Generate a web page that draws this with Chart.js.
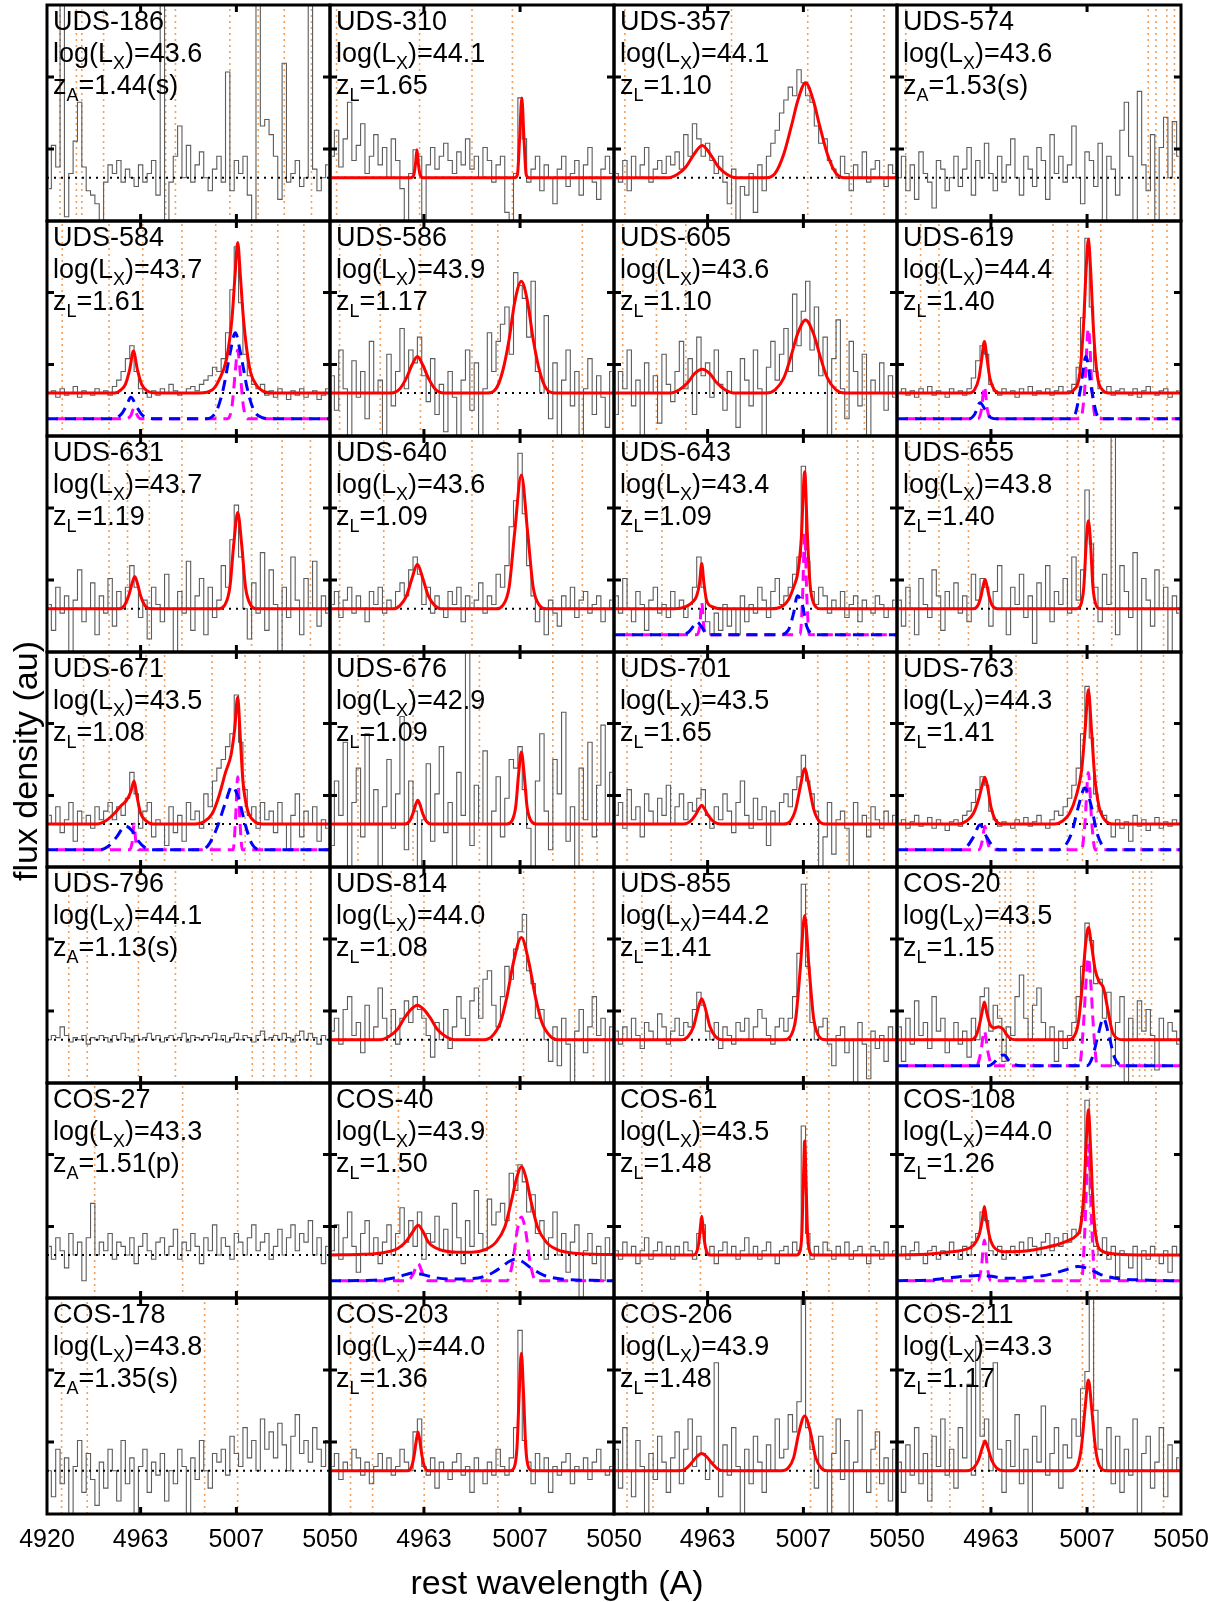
<!DOCTYPE html>
<html>
<head>
<meta charset="utf-8">
<script src="https://cdn.jsdelivr.net/npm/chart.js@4.4.0/dist/chart.umd.min.js"></script>
<style>
body{margin:0;background:#fff;width:1215px;height:1602px;position:relative;overflow:hidden;font-family:"Liberation Sans",Arial,sans-serif;}
canvas{position:absolute;}
.lbl{position:absolute;font-size:27px;line-height:27px;color:#000;white-space:nowrap;}
.lbl sub{font-size:18px;vertical-align:-7px;line-height:0;}
.axt{position:absolute;font-size:34px;line-height:34px;color:#000;white-space:nowrap;transform:translate(-50%,-50%);}
</style>
</head>
<body>
<div id="wrap"></div>
<script>
// panel labels
const sourceNames = ['UDS-186','UDS-310','UDS-357','UDS-574','UDS-584','UDS-586','UDS-605','UDS-619',
  'UDS-631','UDS-640','UDS-643','UDS-655','UDS-671','UDS-676','UDS-701','UDS-763',
  'UDS-796','UDS-814','UDS-855','COS-20','COS-27','COS-40','COS-61','COS-108',
  'COS-178','COS-203','COS-206','COS-211'];
const logLx = ['43.6','44.1','44.1','43.6','43.7','43.9','43.6','44.4','43.7','43.6','43.4','43.8','43.5','42.9','43.5','44.3',
  '44.1','44.0','44.2','43.5','43.3','43.9','43.5','44.0','43.8','44.0','43.9','43.3'];
const zType = ['A','L','L','A','L','L','L','L','L','L','L','L','L','L','L','L','A','L','L','L','A','L','L','L','A','L','L','L'];
const zValue = ['1.44(s)','1.65','1.10','1.53(s)','1.61','1.17','1.10','1.40','1.19','1.09','1.09','1.40','1.08','1.09','1.65','1.41',
  '1.13(s)','1.08','1.41','1.15','1.51(p)','1.50','1.48','1.26','1.35(s)','1.36','1.48','1.17'];

// axis
const tickWavelengths = [4920, 4963, 5007, 5050];
const fluxTickMarks = [33.3, 66.7];
const continuumLevel = 20;

// spectra, 2A bins centred on 4921..5049, flux in % of panel height
const binCentres = [];
for (let w = 4921; w <= 5049; w += 2) binCentres.push(w);

const spectrumFlux = [
 [15,35,25,105,2,22,37,55,25,14,12,8,0, 18,26,22,28,18,24,20,16,26,18,22,28,12, 105,0,18,30,44,20,35,18,26,32,20,14,24, 30,18,69,14,28,22,30,12,0,105,44,47,40, 30,10,73,18,22,28,16,20,105,24,14,20,26],
 [30,42,25,38,55,28,35,45,22,30,40,26,34, 20,38,28,15,0,22,33,30,0,26,34,24,30, 36,28,22,32,26,38,24,30,20,34,28,18,26, 30,4,0,22,57,38,18,24,30,14,26,20,8, 24,30,16,22,28,12,26,34,18,10,24,30,22],
 [22,18,28,14,30,20,26,34,18,24,28,22,30, 26,32,24,40,30,45,38,30,36,28,22,30,18, 8,24,0,16,12,22,4,26,14,30,36,42,50, 56,62,58,70,64,58,55,44,36,38,28,24,20, 30,22,14,26,20,32,18,24,28,20,16,26,22],
 [20,30,14,26,10,32,22,18,6,28,24,14,20, 30,16,24,34,12,28,20,36,22,14,30,18,26, 38,20,12,30,24,16,34,28,10,40,22,30,18, 26,44,20,8,32,28,16,36,0,30,24,12,42, 55,30,0,60,26,14,40,0,34,48,20,46,30],
 [20,21,18,22,19,20,23,18,21,20,19,22,20, 21,19,23,26,30,36,42,30,22,20,18,21,19, 22,20,24,21,19,20,22,23,21,24,26,28,32, 30,36,48,68,88,62,38,28,24,22,24,19,21, 18,22,20,17,21,19,22,18,20,21,17,19,22],
 [28,12,40,22,0,35,18,30,8,44,20,26,0, 38,14,30,50,22,40,34,46,28,16,36,10,24, 2,30,18,0,26,40,12,34,0,22,48,30,44, 52,60,38,76,70,64,46,72,30,20,56,8,34, 0,26,40,14,30,0,22,36,10,28,18,4,30],
 [10,30,22,40,14,26,0,34,20,28,6,38,24, 16,30,44,22,36,10,46,28,34,18,40,24,12, 30,20,4,36,26,14,40,22,0,32,44,26,38, 50,30,66,42,58,72,40,60,28,46,0,36,54, 22,8,44,30,14,38,0,26,20,34,12,28,18],
 [20,22,19,21,18,22,20,23,19,21,20,18,22, 20,21,19,22,27,35,42,38,24,21,19,22,20, 21,18,22,20,23,19,21,20,22,19,21,23,20, 21,24,32,55,92,60,30,22,20,23,19,21,22, 20,19,22,18,21,23,20,19,21,22,18,20,21],
 [22,10,30,18,26,0,24,38,14,20,32,8,26, 18,34,12,28,20,30,40,30,16,24,6,30,22, 14,36,20,0,28,18,42,10,26,34,8,30,16, 24,40,30,52,68,44,20,6,32,18,46,10,38, 22,0,30,16,44,24,8,34,20,42,12,26,18],
 [22,28,16,24,30,18,26,20,14,28,22,30,18, 24,20,28,32,26,38,44,36,22,30,18,26,20, 16,28,22,30,14,26,20,24,32,18,26,22,36, 30,40,58,70,92,64,40,26,14,20,8,24,18, 12,26,20,30,16,24,28,18,22,26,14,20,24],
 [26,18,34,20,14,28,22,10,24,30,18,22,16, 28,20,24,16,22,30,44,30,14,8,18,10,22, 12,20,8,26,14,22,18,30,24,16,28,34,22, 26,30,36,44,86,42,28,22,30,26,18,24,20, 28,16,22,26,14,24,20,18,26,22,16,20,24],
 [24,12,30,20,8,34,22,16,38,26,10,28,20, 32,18,26,14,36,24,34,30,12,28,40,20,8, 30,22,36,16,26,4,32,20,40,14,28,22,34, 18,44,24,38,75,50,30,14,36,22,105,8,40, 28,16,46,0,34,24,12,38,20,30,0,26,18],
 [24,20,28,16,22,30,12,26,20,24,18,28,22, 26,30,22,28,24,32,44,34,18,26,30,14,22, 20,10,28,16,24,12,30,22,26,18,34,28,40, 46,50,56,62,80,58,36,24,28,18,30,22,26, 16,30,20,8,24,34,14,26,20,28,12,22,18],
 [10,40,24,58,0,30,46,14,62,20,36,0,28, 50,18,34,70,8,40,26,0,22,48,12,34,56, 16,30,0,44,24,105,10,38,20,54,0,26,42, 14,32,50,46,56,36,18,0,40,62,26,8,50, 34,72,12,28,0,46,22,58,14,38,66,20,44],
 [24,30,18,36,22,28,14,34,26,20,32,24,38, 20,28,34,22,30,26,32,36,24,18,28,22,34, 26,16,30,40,24,18,32,22,28,10,26,20,30, 34,28,36,42,52,40,34,26,0,14,30,6,22, 26,18,0,30,20,24,14,28,22,18,26,20,24],
 [20,22,18,21,24,19,20,23,18,22,20,17,21, 22,19,24,26,30,36,42,38,26,22,19,21,20, 18,22,20,23,19,21,24,20,18,22,26,24,28, 32,38,46,62,84,60,34,26,24,20,14,22,18, 21,12,24,19,22,17,20,23,18,21,19,22,20],
 [20,22,21,26,22,19,21,20,22,18,21,20,22, 21,19,22,20,23,21,19,22,20,21,23,20,22, 19,21,22,20,21,23,19,22,21,20,22,21,23, 20,22,19,21,23,20,22,21,19,22,24,20,21, 22,20,23,21,19,22,24,20,23,21,18,22,20],
 [24,30,18,34,40,22,28,14,36,20,26,44,30, 22,34,18,30,38,28,40,34,30,22,12,28,20, 34,16,26,40,30,22,38,44,30,48,52,36,26, 40,54,48,62,70,78,52,46,30,34,20,10,26, 8,30,18,0,24,34,14,26,40,22,30,0,26],
 [24,18,26,20,30,22,16,28,24,20,32,26,18, 24,30,22,28,26,34,42,36,24,20,28,16,26, 22,18,28,24,30,20,26,34,30,22,18,26,30, 24,30,40,60,92,54,28,20,26,30,18,8,22, 26,14,20,0,28,18,2,24,16,22,10,26,20],
 [26,10,30,18,38,22,28,16,40,24,30,14,20, 28,18,24,12,30,20,40,44,24,36,30,10,26, 22,40,50,30,20,36,44,28,20,26,10,24,16, 22,28,40,54,74,66,46,48,30,42,8,28,40, 0,30,20,38,24,34,22,6,30,20,28,24,18],
 [24,18,28,22,14,30,20,26,8,28,44,20,26, 22,30,18,26,24,20,28,16,24,30,22,18,26, 28,20,24,32,18,26,22,30,24,16,28,22,34, 20,28,24,18,30,26,20,28,34,22,26,30,18, 24,32,20,28,34,22,30,26,36,20,28,16,24],
 [22,34,18,28,40,24,12,30,36,20,28,16,26, 34,20,30,42,26,36,24,40,18,30,26,38,22, 32,20,44,28,16,36,24,50,30,22,46,34,40, 44,36,58,50,62,54,40,48,30,36,18,28,40, 20,30,12,26,34,0,22,30,16,24,8,28,20],
 [22,18,26,20,24,16,22,28,18,22,26,20,24, 18,24,20,26,22,18,30,34,20,24,16,22,26, 20,24,18,22,28,20,24,18,22,26,20,16,22, 24,20,26,22,80,30,18,24,20,26,22,18,24, 20,26,18,22,24,20,16,24,22,18,26,20,22],
 [20,24,18,22,26,20,16,22,24,18,22,20,26, 22,18,24,20,26,30,40,36,22,20,24,18,22, 24,20,26,22,28,24,20,26,30,22,28,24,30, 26,32,30,38,92,48,24,20,28,18,24,10,22, 20,14,24,8,22,18,24,20,16,22,12,24,20],
 [20,8,30,14,26,0,22,34,10,28,16,4,24, 12,30,20,6,34,14,26,0,22,30,10,24,18, 28,6,20,14,30,22,0,26,16,34,20,12,28, 24,30,18,36,28,22,40,26,34,20,44,30,38, 26,42,32,20,36,46,28,34,24,40,30,22,34],
 [22,28,16,24,20,30,26,18,24,14,22,28,20, 26,18,22,30,24,20,38,44,22,18,26,12,24, 20,16,24,28,18,22,10,26,20,14,24,18,30, 22,18,26,40,85,34,24,14,28,20,26,10,22, 18,24,28,14,22,20,26,16,24,30,20,18,22],
 [30,12,40,20,8,34,22,0,28,16,36,24,10, 26,38,14,30,44,22,36,28,16,24,70,8,32, 18,40,22,0,30,14,36,24,10,32,20,44,26, 30,46,38,52,105,40,30,12,36,20,0,28,44, 16,34,0,24,48,20,10,30,38,14,26,6,30],
 [24,10,32,18,40,14,28,6,36,22,44,18,30, 12,40,26,60,18,80,36,44,20,70,30,10,34, 22,46,14,30,0,36,24,50,18,28,40,12,32, 26,44,36,58,66,105,48,30,20,40,14,36,10, 30,18,44,0,28,36,12,24,40,8,32,20,26]
];

// total fit (red), [wavelength, flux]
const modelTotal = [
 null,
 [[4920,20],[4957,20],[4958.4,21.5],[4959.2,27],[4959.8,33],[4960.4,27],[4961.2,21.5],[4962.6,20],[5004.5,20],[5005.8,21.5],[5006.8,38],[5007.8,57],[5008.8,38],[5009.8,21.5],[5011.1,20],[5050,20]],
 [[4920,20],[4945,20],[4949,21.5],[4953,25],[4956.5,30.5],[4960.5,35],[4964.5,30.5],[4968,25],[4972,21.5],[4976,20],[4990,20],[4994,22],[4998,31],[5001.5,44],[5004.5,56],[5008,64],[5011.5,56],[5014.5,44],[5018,31],[5022,22],[5026,20],[5050,20]],
 null,
 [[4920,20],[4951,20],[4954,21.5],[4956,24],[4958,31],[4959.7,39.5],[4961.5,31],[4963.5,24],[4966,21],[4970,20],[4990,20],[4996,21.5],[4999,26],[5002.5,36],[5005,55],[5006.4,75],[5007.6,90],[5008.8,75],[5010.2,55],[5013,32],[5016,24],[5019,21],[5024,20],[5050,20]],
 [[4920,20],[4948,20],[4952,22],[4955,27],[4957.5,33],[4960,37],[4962.5,33],[4965,27],[4968,22],[4972,20],[4992,20],[4996,22],[4999,30],[5002,45],[5004.5,62],[5007.6,72],[5010.5,62],[5013,45],[5016,30],[5019,22],[5023,20],[5050,20]],
 [[4920,20],[4946,20],[4950,21.5],[4954,25],[4957,29],[4960.5,31],[4964,29],[4967,25],[4971,21.5],[4975,20],[4990,20],[4994,21.5],[4998,27],[5001,36],[5004.5,48],[5008,54],[5011.5,48],[5015,36],[5018,27],[5022,21.5],[5026,20],[5050,20]],
 [[4920,20],[4953,20],[4955.5,21.5],[4957.5,27],[4958.8,36],[4960,44],[4961.2,36],[4962.5,27],[4964.5,21.5],[4967,20],[4998,20],[5001,21.5],[5003.5,28],[5005.3,50],[5006.6,78],[5007.6,91.5],[5008.6,78],[5009.9,50],[5011.7,28],[5014,21.5],[5017,20],[5050,20]],
 [[4920,20],[4953,20],[4955.5,21.5],[4957.5,26],[4959,31.5],[4960.3,35],[4961.6,31.5],[4963,26],[4965,21.5],[4968,20],[4999,20],[5001.5,21.5],[5004,30],[5005.8,50],[5007.6,64.6],[5009.4,50],[5011.2,30],[5013.7,21.5],[5016,20],[5050,20]],
 [[4920,20],[4949,20],[4952,21.5],[4955,26],[4957.5,34],[4960,40.6],[4962.5,34],[4965,26],[4968,21.5],[4971,20],[4996,20],[4999,21.5],[5002,30],[5004.5,55],[5007.6,82],[5010.5,55],[5013,30],[5016,21.5],[5019,20],[5050,20]],
 [[4920,20],[4948,20],[4953,21],[4956,23],[4958,26],[4959.3,32],[4960.3,41],[4961.3,32],[4962.5,24],[4965,21],[4970,20],[4992,20],[4997,21],[5000,24],[5002.5,30],[5004.5,37],[5006,52],[5007.6,83.5],[5008.8,55],[5010,32],[5012,22],[5015,20],[5050,20]],
 [[4920,20],[4955,20],[4957,21.5],[4958.5,26],[4959.5,31],[4960.3,33.6],[4961.1,31],[4962.1,26],[4963.6,21.5],[4966,20],[5002,20],[5004,21.5],[5005.5,30],[5006.7,52],[5007.6,60.8],[5008.5,52],[5009.7,30],[5011.2,21.5],[5013,20],[5050,20]],
 [[4920,20],[4943,20],[4947,21.5],[4951,25],[4954,28.5],[4956.5,31],[4958.5,35],[4960,40],[4961.3,33],[4963,25],[4965.5,21.5],[4969,20],[4988,20],[4992,21],[4996,25],[4999,33],[5002,44],[5004.5,52],[5006.2,64],[5007.6,79],[5008.8,60],[5010,40],[5012,27],[5015,21.5],[5019,20],[5050,20]],
 [[4920,20],[4954,20],[4956.5,21.5],[4958,25],[4959.2,29],[4960.2,31],[4961.2,29],[4962.4,25],[4964,21.5],[4966.5,20],[5001,20],[5003.3,21.5],[5005,28],[5006.4,44],[5007.6,53.5],[5008.8,44],[5010.2,28],[5012,21.5],[5014.5,20],[5050,20]],
 [[4920,20],[4952,20],[4955,21.2],[4957.3,24],[4959,27],[4960.3,28.7],[4961.6,27],[4963.3,24],[4965.6,21.2],[4969,20],[4998,20],[5001,21.3],[5003.5,27],[5005.7,38],[5007.6,45.7],[5009.5,38],[5011.7,27],[5014.2,21.3],[5017,20],[5050,20]],
 [[4920,20],[4948,20],[4952,21.5],[4955,25],[4957.5,32],[4959,38],[4960.2,41.7],[4961.5,37],[4963,28],[4965,22],[4968,20],[4992,20],[4996,21.5],[4999,25],[5002,33],[5004.5,45],[5006.2,65],[5007.6,82.5],[5009,64],[5010.5,42],[5012.5,28],[5015,22],[5019,20],[5050,20]],
 null,
 [[4920,20],[4943,20],[4947,21.5],[4951,25],[4954,30],[4957,34],[4960,36],[4963,34],[4966,30],[4969,25],[4973,21.5],[4977,20],[4990,20],[4994,21.5],[4998,28],[5001,40],[5004,56],[5007.6,67.4],[5011,56],[5014,40],[5017,28],[5021,21.5],[5025,20],[5050,20]],
 [[4920,20],[4951,20],[4954,21.5],[4956.5,26],[4958.5,34],[4960.3,39],[4962.1,34],[4964.1,26],[4966.6,21.5],[4970,20],[4998,20],[5001,21.5],[5003.5,30],[5005.5,52],[5007.6,77.5],[5009.7,52],[5011.7,30],[5014.2,21.5],[5017,20],[5050,20]],
 [[4920,20],[4954,20],[4956,21.5],[4957.5,26],[4958.8,32],[4960,37.5],[4961.2,32],[4962.6,27],[4964.5,25.5],[4966.5,26],[4968.5,25],[4970.5,22],[4972.5,20.3],[4975,20],[4998,20],[5001,21.5],[5003,28],[5004.8,45],[5006.3,64],[5007.6,72],[5009,64],[5010.8,52],[5012.5,47],[5014.5,44],[5016.5,34],[5018.5,24],[5021,20.5],[5024,20],[5050,20]],
 null,
 [[4920,20],[4935,20.3],[4945,21.2],[4951,23],[4955,26.5],[4958,31],[4960.3,33.8],[4962.5,31],[4965,26],[4968,23.5],[4972,22],[4978,21.3],[4985,21.3],[4991,22.5],[4996,26],[5000,33],[5003,45],[5005.5,56],[5007.6,61],[5009.7,56],[5012,45],[5015,33],[5019,26],[5024,22.5],[5032,20.8],[5050,20.2]],
 [[4920,20],[4956.5,20],[4958,21.5],[4959,26],[4959.7,33],[4960.3,38],[4960.9,33],[4961.6,26],[4962.6,21.5],[4964,20],[5004,20],[5005.3,21.5],[5006.3,30],[5007,55],[5007.6,73],[5008.2,55],[5008.9,30],[5009.9,21.5],[5011.2,20],[5050,20]],
 [[4920,20],[4935,20.5],[4945,21.5],[4951,22.5],[4955,24.5],[4957.5,29],[4959,36],[4960,42.6],[4961,36],[4962.5,28],[4965,23],[4970,21.5],[4980,22],[4988,23.5],[4994,25],[4999,27],[5002,29],[5004,33],[5005.5,48],[5006.6,72],[5007.6,87.6],[5008.6,70],[5009.8,42],[5011.5,26],[5014,21.8],[5020,20.5],[5035,20],[5050,20]],
 null,
 [[4920,20],[4955.5,20],[4957.2,21.5],[4958.5,27],[4959.5,34],[4960.3,38],[4961.1,34],[4962.1,27],[4963.4,21.5],[4965,20],[5002.5,20],[5004.3,21.5],[5005.6,31],[5006.7,58],[5007.6,74.4],[5008.5,58],[5009.6,31],[5010.9,21.5],[5012.7,20],[5050,20]],
 [[4920,20],[4950,20],[4953,21],[4955.5,23.5],[4958,26.5],[4960.3,28],[4962.6,26.5],[4965,23.5],[4967.5,21],[4970.5,20],[4997,20],[5000,21.3],[5002.5,26],[5005,38],[5007.6,45.4],[5010.2,38],[5012.7,26],[5015.2,21.3],[5018,20],[5050,20]],
 [[4920,20],[4952,20],[4955,21.3],[4957.3,25],[4959,30.5],[4960.3,33.8],[4961.6,30.5],[4963.3,25],[4965.6,21.3],[4969,20],[4999,20],[5002,21.3],[5004.3,30],[5006,48],[5007.6,62],[5009.2,48],[5010.9,30],[5013.2,21.3],[5016,20],[5050,20]]
];

// broad component (blue dashed), offset below continuum
const modelBroad = {
 4: [[4920,8],[4950,8],[4954,10],[4956.5,14],[4958.5,18],[4961,14],[4963.5,10],[4966,8.5],[4970,8],[4993,8],[4998,12],[5001,22],[5004,38],[5006.5,48],[5009,38],[5012,22],[5015,12],[5019,8.5],[5023,8],[5050,8]],
 7: [[4920,8],[4953,8],[4955.5,10],[4958,15.5],[4960.5,12],[4963,8.5],[4966,8],[4999,8],[5001.5,10],[5004,22],[5006.5,37],[5009,22],[5011.5,10],[5014,8],[5050,8]],
 10: [[4920,8],[4950,8],[4954,9],[4956.5,12],[4958,14],[4960,12],[4962,9],[4965,8],[4996,8],[5000,10],[5002.5,18],[5004.2,26],[5006.5,22],[5008.5,12],[5011,8.5],[5014,8],[5050,8]],
 12: [[4920,8],[4944,8],[4948,9.5],[4952,14],[4956,19],[4959,17],[4962,12],[4965,9],[4969,8],[4990,8],[4994,10],[4998,18],[5002,30],[5005,37.5],[5008,32],[5011,20],[5014,11],[5018,8],[5050,8]],
 15: [[4920,8],[4949,8],[4952,9.5],[4955,14],[4958,19.7],[4961,14],[4964,9.5],[4967,8],[4993,8],[4997,10],[5000,16],[5003,28],[5006,36.7],[5009,28],[5011.5,16],[5014,10],[5017,8],[5050,8]],
 19: [[4920,8],[4962,8],[4964.5,9.5],[4967,12.5],[4969,13],[4971.5,10],[4974,8.5],[4977,8],[5007,8],[5009.5,12],[5012,22],[5014.5,30],[5017,22],[5019.5,12],[5022,8.5],[5025,8],[5050,8]],
 21: [[4920,8],[4940,8.3],[4950,9.5],[4955,11],[4958,11.6],[4962,11],[4968,9.5],[4976,8.8],[4985,9],[4992,10.5],[4998,14],[5002,17],[5005,18],[5008,17],[5012,14],[5018,10.5],[5026,8.8],[5040,8.2],[5050,8]],
 23: [[4920,8],[4935,8.4],[4945,9.5],[4952,10.2],[4957,10.5],[4962,10.2],[4970,9.2],[4980,9.5],[4990,11],[4997,13],[5003,14.7],[5008,13.5],[5013,11],[5020,9.2],[5035,8.3],[5050,8]]
};

// narrow component (magenta dashed)
const modelNarrow = {
 4: [[4920,8],[4956,8],[4958.5,9.5],[4960,13],[4961.5,9.5],[4963,8],[5003,8],[5005,14],[5006.5,30],[5007.6,40],[5008.7,30],[5010.2,14],[5012,8],[5050,8]],
 7: [[4920,8],[4957,8],[4958.6,12],[4960,23],[4961.4,12],[4963,8],[5004,8],[5005.8,20],[5007.6,50],[5009.4,20],[5011,8],[5050,8]],
 10: [[4920,8],[4958,8],[4959.4,12],[4960.3,23],[4961.2,12],[4962.5,8],[5005.5,8],[5006.6,25],[5007.6,55],[5008.6,25],[5009.7,8],[5050,8]],
 12: [[4920,8],[4958,8],[4959.2,12],[4960,20],[4960.8,12],[4962,8],[5005.5,8],[5006.6,22],[5007.6,42],[5008.6,22],[5009.7,8],[5050,8]],
 15: [[4920,8],[4957.5,8],[4959,12],[4960.2,19],[4961.4,12],[4963,8],[5004.5,8],[5006,20],[5007.6,44],[5009.2,20],[5010.7,8],[5050,8]],
 19: [[4920,8],[4956.5,8],[4958.3,14],[4960,24],[4961.7,14],[4963.5,8],[5003.5,8],[5005.3,26],[5006.6,48],[5007.6,58],[5008.6,48],[5009.9,26],[5011.7,8],[5050,8]],
 21: [[4920,8],[4955.5,8],[4958,11],[4960.3,16],[4962.6,11],[4965,8],[5001,8],[5003.5,16],[5005.8,32],[5007.6,37.7],[5009.4,32],[5011.7,16],[5014.2,8],[5050,8]],
 23: [[4920,8],[4957,8],[4958.6,14],[4960,27],[4961.4,14],[4963,8],[5004.5,8],[5006,32],[5007.6,71],[5009.2,32],[5010.7,8],[5050,8]]
};

// sky lines (orange dotted)
const skyLines = [
 [4926,4933.5,4936,4946,4974.5,4979,5004,5017,5029,5041.5],
 [4923,4961,4985,5003.5],
 [4925,4974,5009,5029,5044],
 [4924,5035,5038.5,5043.5,5047],
 [4927,4948.5,4964,4982,4997.5,5014,5026,5038],
 [4924.4,4943,4961.4,4985,4996.8,5035.5],
 [4924,4939.5,4953,5022,5027,5035],
 [4930.8,4939.2,4991.4,4998,5003,5013.3,5037,5043.6],
 [4948.5,4957,4967,4982,5014,5028,5041],
 [4924.4,4944.6,4985,5022,5035.5],
 [4926,4942,5027,5032,5039],
 [4925.7,4939.2,4952.7,4998,5003,5010,5018.3,5042],
 [4936.8,4948.6,4965.5,4974,4995.8,5011,5017.7,5038],
 [4932.8,4958,4988.4,5022,5035.5,5042.3],
 [4926,4946.3,4960,5013.6,5027,5037,5044],
 [4924,4974.5,4998,5004.9,5011.6,5031.8,5042],
 [4930,4938.5,4962,4979,5014.3,5019.4,5024.4,5029.5,5034.5,5041.2],
 [4948,4963,4988.4,5008.6,5032,5040.6],
 [4924.4,4932.8,4946.3,5008.6,5018.7,5037],
 [4967,4969.5,4972,4980,4982.5,5001.5,5028,5031,5033.5,5036.5],
 [4941.9,4982.3,5007.6],
 [4951.3,4991.7,5005.2],
 [4932.8,4959.7,5008.6,5018.7,5037.2],
 [4954.3,4998,5004.2,5008.2,5011.6,5038.5],
 [4926.7,4938.5,4992.4,5007.6],
 [4929.4,4939.5,4963.1,4996.8],
 [4926,4937.9,5010.3,5020.4,5040.6],
 [4935.8,4944.2,4959.4,5004.9,5010,5042]
];

// layout
const colX = [47, 330, 614, 897, 1181];
const rowY = [5, 221, 436, 652, 867, 1083, 1298, 1514];
const M = 40;
const AXIS_H = 50;

Chart.defaults.font.family = "'Liberation Sans', Arial, sans-serif";

function toXY(pairs) {
  return pairs.map(p => ({x: p[0], y: p[1]}));
}

// frame and inward ticks
const framePlugin = {
  id: 'frame',
  afterDatasetsDraw(chart) {
    const ctx = chart.ctx, a = chart.chartArea;
    const xs = chart.scales.x, ys = chart.scales.y;
    ctx.save();
    ctx.strokeStyle = '#000';
    ctx.lineWidth = 3;
    ctx.beginPath();
    tickWavelengths.slice(1, 3).forEach(v => {
      const px = xs.getPixelForValue(v);
      ctx.moveTo(px, a.top); ctx.lineTo(px, a.top + 7);
      ctx.moveTo(px, a.bottom); ctx.lineTo(px, a.bottom - 7);
    });
    fluxTickMarks.forEach(v => {
      const py = ys.getPixelForValue(v);
      ctx.moveTo(a.left, py); ctx.lineTo(a.left + 7, py);
      ctx.moveTo(a.right, py); ctx.lineTo(a.right - 7, py);
    });
    ctx.stroke();
    ctx.strokeRect(a.left, a.top, a.right - a.left, a.bottom - a.top);
    ctx.restore();
  }
};

const wrap = document.getElementById('wrap');

for (let i = 0; i < sourceNames.length; i++) {
  const r = Math.floor(i / 4), c = i % 4;
  const isBottom = r === 6;
  const pw = colX[c + 1] - colX[c], ph = rowY[r + 1] - rowY[r];

  const cv = document.createElement('canvas');
  cv.width = pw + 2 * M;
  cv.height = ph + 2 * M + (isBottom ? AXIS_H : 0);
  cv.style.left = (colX[c] - M) + 'px';
  cv.style.top = (rowY[r] - M) + 'px';
  wrap.appendChild(cv);

  const datasets = [];
  if (modelTotal[i]) {
    datasets.push({data: toXY(modelTotal[i]), borderColor: '#ff0000', borderWidth: 3, cubicInterpolationMode: 'monotone'});
  }
  if (modelBroad[i]) {
    datasets.push({data: toXY(modelBroad[i]), borderColor: '#0000ff', borderWidth: 3, borderDash: [11, 7], cubicInterpolationMode: 'monotone'});
  }
  if (modelNarrow[i]) {
    datasets.push({data: toXY(modelNarrow[i]), borderColor: '#ff00ff', borderWidth: 3, borderDash: [11, 7], borderDashOffset: 9, cubicInterpolationMode: 'monotone'});
  }
  datasets.push({data: [{x: 4920, y: continuumLevel}, {x: 5050, y: continuumLevel}], borderColor: '#000', borderWidth: 2, borderDash: [2, 5]});
  datasets.push({data: spectrumFlux[i].map((v, k) => ({x: binCentres[k], y: v})), borderColor: '#5c5c5c', borderWidth: 1.1, stepped: 'middle'});
  const sky = [];
  skyLines[i].forEach(w => { sky.push({x: w, y: 0}, {x: w, y: 100}, {x: w, y: null}); });
  datasets.push({data: sky, borderColor: '#f2a05a', borderWidth: 1.6, borderDash: [2, 4], spanGaps: false});

  new Chart(cv, {
    type: 'line',
    data: {datasets: datasets},
    options: {
      responsive: false,
      animation: false,
      events: [],
      layout: {padding: {left: M, right: M, top: M, bottom: M}},
      elements: {point: {radius: 0}},
      plugins: {legend: {display: false}, tooltip: {enabled: false}},
      scales: {
        x: {
          type: 'linear', min: 4920, max: 5050, display: isBottom,
          grid: {display: false, drawTicks: false},
          border: {display: false},
          afterBuildTicks: ax => { ax.ticks = tickWavelengths.map(v => ({value: v})); },
          afterFit: s => { if (isBottom) s.height = AXIS_H; },
          ticks: {
            autoSkip: false, maxRotation: 0, padding: 11, color: '#000', font: {size: 25},
            callback: v => (c > 0 && v === 4920) ? '' : String(v)
          }
        },
        y: {type: 'linear', min: 0, max: 100, display: false}
      }
    },
    plugins: [framePlugin]
  });

  // text block in the top-left corner
  const lines = [
    sourceNames[i],
    'log(L<sub>X</sub>)=' + logLx[i],
    'z<sub>' + zType[i] + '</sub>=' + zValue[i]
  ];
  const offs = [3, 35, 67];
  lines.forEach((t, k) => {
    const d = document.createElement('div');
    d.className = 'lbl';
    d.style.left = (colX[c] + 6) + 'px';
    d.style.top = (rowY[r] + offs[k]) + 'px';
    d.innerHTML = t;
    wrap.appendChild(d);
  });
}

const xt = document.createElement('div');
xt.className = 'axt';
xt.style.left = '557px';
xt.style.top = '1582px';
xt.textContent = 'rest wavelength (A)';
wrap.appendChild(xt);

const yt = document.createElement('div');
yt.className = 'axt';
yt.style.left = '25px';
yt.style.top = '761px';
yt.style.transform = 'translate(-50%,-50%) rotate(-90deg)';
yt.textContent = 'flux density (au)';
wrap.appendChild(yt);
</script>
</body>
</html>
